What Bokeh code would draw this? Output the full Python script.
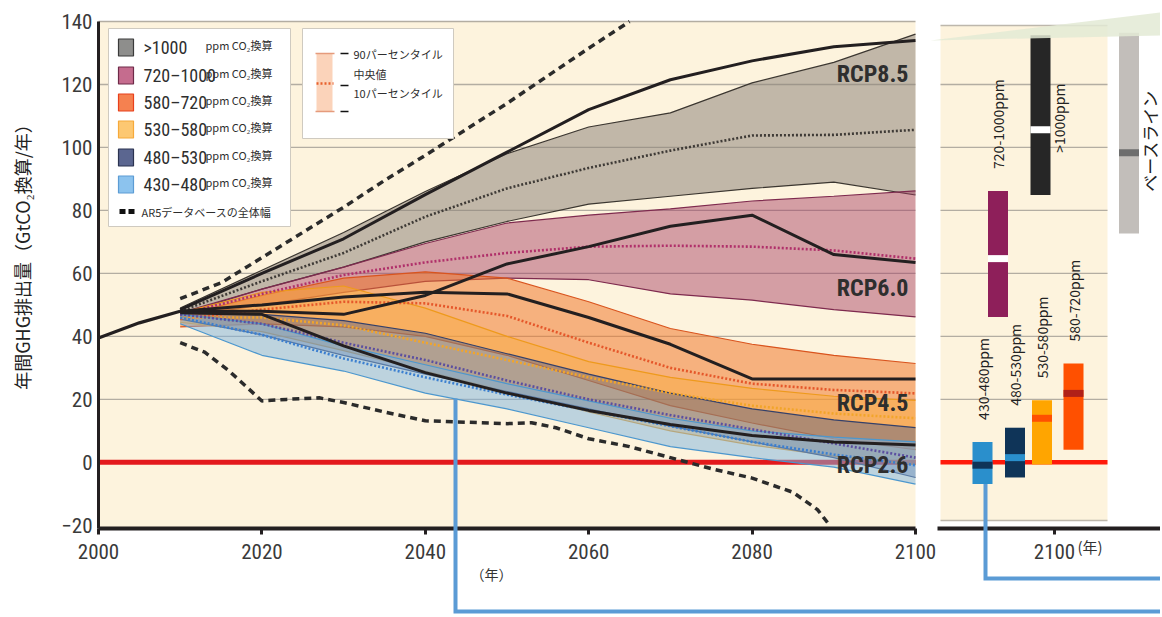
import numpy as np
from bokeh.plotting import figure
from bokeh.models import Range1d, FixedTicker, LinearAxis
from bokeh.core.properties import value
from bokeh.embed import file_html
from bokeh.resources import INLINE

# ---------------- data ----------------
YEARS = [2010, 2020, 2030, 2040, 2050, 2060, 2070, 2080, 2090, 2100]

GT1000_P90 = [49, 61, 73, 86, 98, 106.5, 111, 120.5, 127, 136]
GT1000_P50 = [48, 57.5, 66.5, 78, 87, 93.5, 99, 103.8, 104, 105.6]
GT1000_P10 = [47, 55, 62, 70, 76.5, 82, 84.5, 87, 89, 84.9]

C720_P90 = [47.5, 55, 62, 69.5, 76, 78.5, 80.5, 83, 84.5, 86.2]
C720_P50 = [47, 53.5, 59.5, 63.5, 66.5, 68.5, 68.8, 68.5, 67.3, 64.7]
C720_P10 = [46, 50, 54, 57.5, 58.5, 58, 53.5, 51.5, 48.5, 46.2]

C580_P90 = [46.5, 53, 58.5, 60.5, 58.5, 51, 42.5, 37.5, 34, 31.4]
C580_P50 = [45.5, 48.5, 51, 50.5, 46.5, 38, 30, 25, 23, 21.9]
C580_P10 = [43, 44, 43, 40, 34, 26, 18, 12.5, 7.5, 4.0]

C530_P90 = [47.5, 54, 56, 49, 40, 32, 27, 23.5, 21, 19.7]
C530_P50 = [46, 46, 43.5, 38, 32.5, 27, 22, 18, 15.5, 14.0]
C530_P10 = [44.5, 41.5, 35.5, 29, 22.5, 16, 10, 5.5, 2, -0.7]

C480_P90 = [48, 47, 45, 41, 34.5, 28, 22, 17, 13.5, 11.0]
C480_P50 = [47, 44, 38, 32.5, 26, 20, 15, 10.5, 6, 1.5]
C480_P10 = [45.5, 40.5, 34, 28, 22.5, 17, 11.5, 6.5, 1.5, -4.8]

C430_P90 = [47, 44, 37, 31, 25, 19.5, 14, 10, 8, 6.5]
C430_P50 = [46, 40.5, 33, 27, 21.5, 16.5, 11.5, 6.5, 2.5, -0.9]
C430_P10 = [44, 34, 29, 22, 17, 11, 5, 1.5, -1.5, -6.9]

RCP_YEARS = [2010, 2020, 2030, 2040, 2050, 2060, 2070, 2080, 2090, 2100]
RCP85 = [48.5, 60, 71, 85, 98.5, 112, 121.5, 127.5, 132, 134]
RCP60 = [48, 48, 47, 53, 63, 68.5, 75, 78.5, 66, 63.5]
RCP45 = [48, 50, 52.5, 54, 53.5, 46, 37.5, 26.5, 26.5, 26.5]
RCP26 = [47.5, 47, 37, 28.5, 22, 16.5, 12, 8.5, 6.5, 5.5]
RCP_NAMES = ["RCP8.5", "RCP6.0", "RCP4.5", "RCP2.6"]

HIST_YEARS = [2000, 2005, 2010]
HIST_VALUES = [39.5, 44.3, 48]

AR5_UP_YEARS = [2010, 2015, 2020, 2025, 2030, 2035, 2040, 2050, 2060, 2065]
AR5_UP = [52, 57, 65, 73, 81, 89.5, 97.5, 114, 131.5, 140]
AR5_LO_YEARS = [2010, 2013, 2016, 2020, 2023, 2027, 2030, 2035, 2040, 2050,
                2053, 2056, 2060, 2065, 2070, 2075, 2080, 2085, 2088, 2089.5]
AR5_LO = [38, 35, 29, 19.5, 20, 20.5, 19, 16, 13.2, 12.3,
          12.6, 11, 7.5, 5, 1.5, -2, -5, -9.5, -15, -20]

LEGEND_RANGES = [">1000", "720–1000", "580–720", "530–580", "480–530", "430–480"]

BAR_NAMES = ["430-480ppm", "480-530ppm", "530-580ppm", "580-720ppm",
             "720-1000ppm", ">1000ppm", "ベースライン"]
BAR_LOW = [-6.9, -4.8, -0.7, 4.0, 46.2, 84.9, 72.7]
BAR_MED = [-0.9, 1.5, 14.0, 21.9, 64.7, 105.6, 98.3]
BAR_HIGH = [6.5, 11.0, 19.7, 31.4, 86.2, 135.6, 136.4]

Y_TICKS = [-20, 0, 20, 40, 60, 80, 100, 120, 140]
X_TICKS = [2000, 2020, 2040, 2060, 2080, 2100]
Y_TITLE = "年間GHG排出量（GtCO₂換算/年）"

# ---------------- layout / style ----------------
FONT_NUM = ("Roboto Condensed, DejaVu Sans Condensed, Noto Sans Condensed, "
            "Liberation Sans Narrow, Arial Narrow, Liberation Sans, sans-serif")
FONT_JP = "Noto Sans CJK JP"
CREAM = "#FDF3DD"
GRID = "#B3ADA2"
INK = "#231F20"

W, H = 1160, 615
FL = 98                                   # page px of year 2000
PX_YEAR = 8.17
PX_VAL = 3.149
Y_TOP_PX = 21                             # page px of value 140


def X(px):
    return 2000 + (px - FL) / PX_YEAR


def Y(py):
    return 140 - (py - Y_TOP_PX) / PX_VAL


PANEL_L = 940                              # right panel, panel units (tick "2100" at 7)
PX_PANEL = (1054 - PANEL_L) / 7.0


def PX(px):
    return (px - PANEL_L) / PX_PANEL


p = figure(width=W, height=H, output_backend="svg", toolbar_location=None,
           x_range=Range1d(X(0), X(W)), y_range=Range1d(Y(H), Y(0)),
           min_border_left=0, min_border_right=0, min_border_top=0, min_border_bottom=0,
           background_fill_color="white", border_fill_color="white",
           outline_line_color=None)
p.extra_x_ranges = {"panel": Range1d(PX(0), PX(W))}
p.grid.visible = False

# main background + grid + zero line
p.quad(left=2000, right=2100, bottom=-21, top=140, fill_color=CREAM, line_color=None)
grid_vals = [v for v in Y_TICKS if v > 0]
p.segment(x0=[2000] * len(grid_vals), x1=[2100] * len(grid_vals), y0=grid_vals, y1=grid_vals,
          line_color=GRID, line_width=1.3)
p.segment(x0=[2000], x1=[2100], y0=[0], y1=[0], line_color="#E3191C", line_width=5)

# bands
bands = [
    (GT1000_P10, GT1000_P50, GT1000_P90, "#8A8176", 0.52, "#3B3630", "#3E3A36"),
    (C720_P10, C720_P50, C720_P90, "#A2375F", 0.45, "#7E2A4E", "#B0306A"),
    (C580_P10, C580_P50, C580_P90, "#F07526", 0.52, "#D9541E", "#E5572A"),
    (C530_P10, C530_P50, C530_P90, "#FBAE3C", 0.45, "#EE9A1C", "#F2A52A"),
    (C480_P10, C480_P50, C480_P90, "#4A5A8C", 0.42, "#34406A", "#5B4FA0"),
    (C430_P10, C430_P50, C430_P90, "#7EB3E0", 0.5, "#4C97CE", "#3B7FD0"),
]
for lo, med, hi, fc, fa, ec, mc in bands:
    p.varea(x=YEARS, y1=lo, y2=hi, fill_color=fc, fill_alpha=fa)
    p.line(YEARS, lo, line_color=ec, line_width=1.2)
    p.line(YEARS, hi, line_color=ec, line_width=1.2)
for lo, med, hi, fc, fa, ec, mc in bands:
    p.line(YEARS, med, line_color=mc, line_width=2.6, line_dash="2 2")

# RCP pathways, history, AR5 range
for vals in (RCP85, RCP60, RCP45, RCP26):
    p.line(RCP_YEARS, vals, line_color=INK, line_width=3)
p.line(HIST_YEARS, HIST_VALUES, line_color=INK, line_width=3.2)
p.line(AR5_UP_YEARS, AR5_UP, line_color="#2B2B2B", line_width=3.5, line_dash="7 5")
p.line(AR5_LO_YEARS, AR5_LO, line_color="#2B2B2B", line_width=3.5, line_dash="7 5")

rcp_label_y = [Y(73), Y(287), Y(402), Y(464)]
p.text(x=[X(908)] * 4, y=rcp_label_y, text=RCP_NAMES, text_font=value(FONT_NUM),
       text_font_style="bold", text_font_size="24px", text_color="#2E2E2E",
       text_align="right", text_baseline="middle")

# ---------------- legends (drawn in the plot) ----------------
p.quad(left=X(108), right=X(290), top=Y(28), bottom=Y(226), fill_color="white",
       line_color="#CFCAC0", line_width=1)
item_y = [Y(v) for v in (47, 75, 102, 129, 157, 184)]
sw_fill = ["#8E8E8C", "#C56C8E", "#F58150", "#FDC872", "#5B6690", "#8CC3EE"]
sw_line = ["#3A3A3A", "#6E2A48", "#E8401C", "#F6A93A", "#2B3350", "#5C9CD4"]
p.rect(x=[X(125.5)] * 6, y=item_y, width=15, height=17, width_units="screen",
       height_units="screen", fill_color=sw_fill, line_color=sw_line, line_width=1.2)
p.text(x=[X(143)] * 6, y=item_y, text=LEGEND_RANGES, text_font=value(FONT_NUM),
       text_font_size="18px", text_color="#2E2E2E", text_baseline="middle")
p.text(x=[X(205)] * 6, y=item_y, y_offset=-3, text=["ppm CO₂換算"] * 6,
       text_font=value(FONT_JP), text_font_size="11px", text_color="#2E2E2E",
       text_baseline="middle")
p.segment(x0=[X(119), X(128)], x1=[X(125), X(134)], y0=[Y(211)] * 2, y1=[Y(211)] * 2,
          line_color="#111111", line_width=5)
p.text(x=[X(141)], y=[Y(211)], text=["AR5データベースの全体幅"], text_font=value(FONT_JP),
       text_font_size="11px", text_color="#2E2E2E", text_baseline="middle")

p.quad(left=X(302), right=X(453), top=Y(28), bottom=Y(138), fill_color="white",
       line_color="#CFCAC0", line_width=1)
p.quad(left=X(316), right=X(332), top=Y(53), bottom=Y(111), fill_color="#FBD3BA",
       line_color=None)
p.segment(x0=[X(315)] * 2, x1=[X(334)] * 2, y0=[Y(53), Y(111)], y1=[Y(53), Y(111)],
          line_color="#E59B7C", line_width=1.5)
p.segment(x0=[X(316)], x1=[X(333)], y0=[Y(83)], y1=[Y(83)], line_color="#E8602C",
          line_width=2.5, line_dash="2 2")
p.segment(x0=[X(340)] * 3, x1=[X(348)] * 3, y0=[Y(53), Y(85), Y(111)],
          y1=[Y(53), Y(85), Y(111)], line_color="#111111", line_width=1.6)
p.text(x=[X(353)] * 3, y=[Y(53), Y(73), Y(92)],
       text=["90パーセンタイル", "中央値", "10パーセンタイル"], text_font=value(FONT_JP),
       text_font_size="11px", text_color="#2E2E2E", text_baseline="middle")

# ---------------- right panel: 2100 ranges ----------------
BAR_X = [PX(982), PX(1014.5), PX(1041.5), PX(1073), PX(997.5), PX(1040), PX(1128.5)]
BAR_W = 20 / PX_PANEL
BAR_FILL = ["#2A8FCC", "#0F3458", "#FFA500", "#FF5000", "#8E1F5A", "#262626", "#C2BEBA"]
BAR_MID = ["#0F3458", "#2A8FCC", "#FF5000", "#B02018", "#FFFFFF", "#FFFFFF", "#6D6D6D"]
pl, pr = PX(940), PX(1107)
p_top, p_bot = Y(25), Y(520)
p.quad(left=pl, right=pr, bottom=p_bot, top=p_top, fill_color=CREAM, line_color=None,
       x_range_name="panel")
pg = [v for v in Y_TICKS if 0 < v < 140]
p.segment(x0=[pl] * len(pg), x1=[pr] * len(pg), y0=pg, y1=pg, line_color=GRID,
          line_width=1.3, x_range_name="panel")
p.segment(x0=[pl, pl], x1=[pr, pr], y0=[p_top, p_bot], y1=[p_top, p_bot], line_color="#BDB7AC",
          line_width=1.5, x_range_name="panel")
p.segment(x0=[pl], x1=[pr], y0=[0], y1=[0], line_color="#FF1A0A", line_width=4.5,
          x_range_name="panel")
p.vbar(x=BAR_X, width=BAR_W, bottom=BAR_LOW, top=BAR_HIGH, fill_color=BAR_FILL,
       line_color=None, x_range_name="panel")
p.rect(x=BAR_X, y=BAR_MED, width=BAR_W, height=7, height_units="screen",
       fill_color=BAR_MID, line_color=None, x_range_name="panel")
p.text(x=BAR_X[:5], y=BAR_HIGH[:5], y_offset=-22, text=BAR_NAMES[:5], angle=np.pi / 2,
       text_font=value(FONT_JP), text_font_size="14px", text_color="#222222",
       text_align="left", text_baseline="middle", x_range_name="panel")
p.text(x=[BAR_X[5] + 18 / PX_PANEL], y=[BAR_MED[5]], y_offset=23, text=[BAR_NAMES[5]],
       angle=np.pi / 2, text_font=value(FONT_JP), text_font_size="14px",
       text_color="#222222", text_align="left", text_baseline="middle",
       x_range_name="panel")
p.text(x=[BAR_X[6] + 20 / PX_PANEL], y=[BAR_MED[6]], y_offset=39, text=[BAR_NAMES[6]],
       angle=np.pi / 2, text_font=value(FONT_JP), text_font_size="17px",
       text_color="#222222", text_align="left", text_baseline="middle",
       x_range_name="panel")

# decorations: wedge and blue connectors
p.patch(x=[X(930), X(W), X(W)], y=[Y(40), Y(12), Y(35)], fill_color="#E3EAD5",
        fill_alpha=0.85, line_color=None)
BLUE = "#5B9BD5"
bx, by = X(455), Y(611)
p.line(x=[bx, bx, X(W)], y=[Y(398), by, by], line_color=BLUE, line_width=4,
       line_join="miter", level="overlay")
cx, cy = PX(985), Y(578)
p.line(x=[cx, cx, PX(W)], y=[BAR_LOW[0], cy, cy], line_color=BLUE, line_width=4,
       line_join="miter", level="overlay", x_range_name="panel")

# year labels and y title
p.text(x=[X(491)], y=[Y(573)], text=["（年）"], text_font=value(FONT_JP),
       text_font_size="14px", text_color="#333333", text_align="center",
       text_baseline="middle")
p.text(x=[PX(1077)], y=[Y(546)], text=["(年)"], text_font=value(FONT_JP),
       text_font_size="15px", text_color="#333333", text_align="left",
       text_baseline="middle", x_range_name="panel")
p.text(x=[X(21)], y=[Y(252)], text=[Y_TITLE], angle=np.pi / 2, text_font=value(FONT_JP),
       text_font_size="18px", text_color="#222222", text_align="center",
       text_baseline="middle")

# ---------------- axes ----------------
AXIS_Y = -21


def style_x(ax):
    ax.fixed_location = AXIS_Y
    ax.axis_line_width = 4
    ax.axis_line_color = INK
    ax.major_tick_out = 6
    ax.major_tick_in = 0
    ax.major_tick_line_width = 3
    ax.major_tick_line_color = INK
    ax.minor_tick_line_color = None
    ax.major_label_standoff = 10
    ax.major_label_text_font = FONT_NUM
    ax.major_label_text_font_size = "21px"
    ax.major_label_text_color = "#3A3A3A"


xa = p.xaxis[0]
style_x(xa)
xa.ticker = FixedTicker(ticks=X_TICKS)
xa.bounds = (2000, 2100)

pa = LinearAxis(x_range_name="panel")
style_x(pa)
pa.ticker = FixedTicker(ticks=[7])
pa.major_label_overrides = {7: "2100"}
pa.bounds = (PX(937), PX(W))
p.add_layout(pa, "below")

ya = p.yaxis[0]
ya.fixed_location = 2000
ya.ticker = FixedTicker(ticks=Y_TICKS)
ya.bounds = (-21, 140)
ya.major_label_overrides = {-20: "−20"}
ya.axis_line_width = 3
ya.axis_line_color = INK
ya.major_tick_out = 0
ya.major_tick_in = 0
ya.minor_tick_line_color = None
ya.major_label_standoff = 6
ya.major_label_text_font = FONT_NUM
ya.major_label_text_font_size = "21px"
ya.major_label_text_color = "#3A3A3A"

open("out.html", "w").write(file_html(p, INLINE))
